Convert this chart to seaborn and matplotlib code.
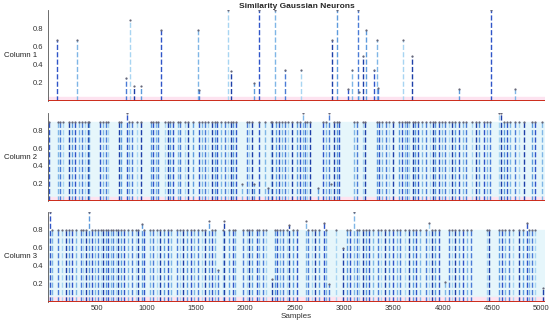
import numpy as np
import pandas as pd
import matplotlib
matplotlib.use("Agg")
import matplotlib.pyplot as plt
import seaborn as sns

# stem positions (samples) and heights
col1_pos = [91, 294, 793, 834, 874, 945, 1145, 1523, 1533, 1827, 1857, 2090, 2141,
            2305, 2406, 2563, 2880, 2934, 3040, 3083, 3140, 3157, 3191, 3228, 3309,
            3333, 3346, 3597, 3688, 4164, 4488, 4731]
col1_val = [0.67, 0.67, 0.25, 0.89, 0.17, 0.17, 0.78, 0.78, 0.12, 1.0, 0.33, 0.2, 1.0,
            1.0, 0.34, 0.34, 0.67, 1.0, 0.13, 0.34, 1.0, 0.1, 0.5, 0.78, 0.34,
            0.67, 0.14, 0.67, 0.5, 0.13, 1.0, 0.13]

col2_pos = [10, 101, 125, 158, 219, 250, 277, 317, 351, 378, 405, 422, 530, 564, 587,
            614, 722, 743, 800, 824, 857, 901, 945, 1046, 1070, 1097, 1121, 1188, 1215,
            1242, 1273, 1317, 1344, 1391, 1418, 1475, 1533, 1560, 1593, 1620, 1661,
            1695, 1718, 1752, 1796, 1830, 1853, 1880, 1907, 1965, 2022, 2042, 2066,
            2090, 2144, 2201, 2230, 2259, 2275, 2313, 2340, 2370, 2404, 2438, 2471,
            2529, 2556, 2583, 2606, 2630, 2657, 2742, 2785, 2819, 2850, 2866, 2900,
            2927, 2954, 3103, 3130, 3197, 3214, 3333, 3357, 3390, 3424, 3458, 3492,
            3559, 3586, 3613, 3637, 3660, 3694, 3721, 3748, 3789, 3829, 3873, 3897,
            3924, 3958, 3991, 4025, 4066, 4093, 4120, 4167, 4201, 4235, 4295, 4336,
            4370, 4414, 4447, 4481, 4566, 4593, 4616, 4650, 4684, 4728, 4775, 4819,
            4903, 4937, 5005]
col2_val = [0.9] * len(col2_pos)
col2_val[col2_pos.index(800)] = 1.0
col2_val[col2_pos.index(1965)] = 0.2
col2_val[col2_pos.index(2090)] = 0.2
col2_val[col2_pos.index(2230)] = 0.15
col2_val[col2_pos.index(2583)] = 1.0
col2_val[col2_pos.index(2742)] = 0.15
col2_val[col2_pos.index(2850)] = 1.0
col2_val[col2_pos.index(2866)] = 0.2
col2_val[col2_pos.index(4566)] = 1.0
col2_val[col2_pos.index(4593)] = 1.0

col3_pos = [20, 47, 101, 149, 182, 216, 250, 284, 338, 361, 385, 419, 446, 480, 513,
            540, 564, 588, 615, 642, 665, 689, 709, 743, 777, 810, 858, 892, 919, 959,
            979, 1037, 1071, 1104, 1138, 1182, 1216, 1250, 1307, 1341, 1374, 1408,
            1452, 1486, 1527, 1560, 1594, 1634, 1661, 1695, 1728, 1772, 1789, 1840,
            1874, 1897, 1982, 2015, 2042, 2066, 2117, 2144, 2178, 2211, 2269, 2303,
            2326, 2353, 2387, 2427, 2444, 2488, 2529, 2617, 2640, 2674, 2708, 2752,
            2802, 2819, 2853, 2920, 2988, 3035, 3062, 3103, 3130, 3157, 3191, 3224,
            3258, 3292, 3343, 3377, 3411, 3458, 3492, 3536, 3569, 3613, 3660, 3694,
            3728, 3772, 3829, 3856, 3890, 3924, 3958, 4018, 4066, 4093, 4127, 4160,
            4201, 4245, 4289, 4447, 4471, 4565, 4599, 4633, 4667, 4707, 4775, 4809,
            4853, 4870, 4903, 4937, 5011]
col3_val = [0.8] * len(col3_pos)
col3_val[col3_pos.index(20)] = 1.0
col3_val[col3_pos.index(419)] = 1.0
col3_val[col3_pos.index(959)] = 0.87
col3_val[col3_pos.index(1634)] = 0.9
col3_val[col3_pos.index(1728)] = 0.35
col3_val[col3_pos.index(1789)] = 0.9
col3_val[col3_pos.index(2269)] = 0.25
col3_val[col3_pos.index(2444)] = 0.85
col3_val[col3_pos.index(2617)] = 0.9
col3_val[col3_pos.index(2802)] = 0.88
col3_val[col3_pos.index(2853)] = 0.2
col3_val[col3_pos.index(2988)] = 0.6
col3_val[col3_pos.index(3103)] = 1.0
col3_val[col3_pos.index(3856)] = 0.88
col3_val[col3_pos.index(4018)] = 0.22
col3_val[col3_pos.index(4853)] = 0.88
col3_val[col3_pos.index(5011)] = 0.15

names = ["Column 1", "Column 2", "Column 3"]
xticks = [500, 1000, 1500, 2000, 2500, 3000, 3500, 4000, 4500, 5000]
yticks = [0.2, 0.4, 0.6, 0.8]

sns.set_style("white")
plt.rcParams["font.family"] = ["Liberation Sans", "DejaVu Sans"]

blues = ["#2f55c8", "#7fb6e6", "#4a7bd6", "#a8d5f2", "#1e3fa8", "#5d9bdd"]

fig = plt.figure(figsize=(5.5, 3.26), dpi=100)
boxes = [(0.0867, 0.690, 0.905, 0.279),
         (0.0867, 0.383, 0.905, 0.270),
         (0.0867, 0.074, 0.905, 0.276)]

series = [(col1_pos, col1_val), (col2_pos, col2_val), (col3_pos, col3_val)]

for i, (pos, val) in enumerate(series):
    ax = fig.add_axes(boxes[i])
    df = pd.DataFrame({"x": pos, "y": val})
    df["c"] = [blues[k % len(blues)] for k in range(len(df))]
    if i > 0:
        ax.axvspan(0, 5040, ymin=0, ymax=0.9 if i == 1 else 0.8, color="#e6f6fb", zorder=0)
    ax.axhspan(0, 0.05, color="#fde3f0", zorder=0.5)
    ax.vlines(df["x"], 0, df["y"], colors=df["c"], linestyles="--", linewidth=1.0, zorder=2)
    sns.scatterplot(data=df, x="x", y="y", ax=ax, color="#666677", s=2.5,
                    marker="o", linewidth=0, zorder=3, legend=False)
    ax.axhline(0, color="#cc2a1a", linewidth=1.4, zorder=4)
    ax.set_xlim(0, 5040)
    ax.set_ylim(0, 1.0)
    ax.set_yticks(yticks)
    ax.set_yticklabels([f"{t:.1f}" for t in yticks])
    ax.tick_params(axis="y", labelsize=5.5, length=2, width=0.5, pad=1.5, colors="#333333")
    ax.tick_params(axis="x", labelsize=5.5, length=0, pad=2, colors="#333333")
    for s in ["top", "right", "bottom"]:
        ax.spines[s].set_visible(False)
    ax.spines["left"].set_linewidth(0.6)
    ax.spines["left"].set_color("#555555")
    ax.set_ylabel(names[i], rotation=0, ha="right", va="center", fontsize=5.6, color="#222222")
    ax.yaxis.set_label_coords(-0.022, 0.5)
    ax.set_xlabel("")
    if i < 2:
        ax.set_xticks([])
    else:
        ax.set_xticks(xticks)
        ax.set_xlabel("Samples", fontsize=5.8, color="#333333", labelpad=1)
    if i == 0:
        ax.set_title("Similarity Gaussian Neurons", fontsize=6, fontweight="bold", pad=1)

fig.savefig("out.png", dpi=100)
